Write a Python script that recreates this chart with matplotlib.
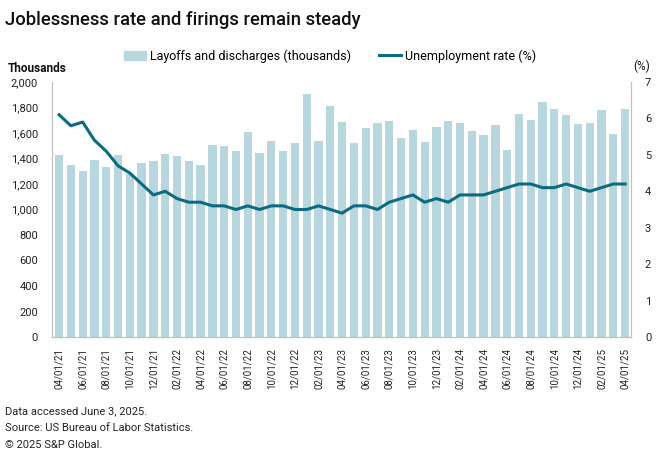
import pandas as pd
import matplotlib.pyplot as plt
import matplotlib.ticker as mticker
from matplotlib.patches import Patch
from matplotlib.lines import Line2D
import numpy as np

plt.rcParams['font.family'] = ['Roboto', 'DejaVu Sans']

# Meses de 04/2021 a 04/2025
months = pd.date_range("2021-04-01", "2025-04-01", freq="MS")
month_labels = [d.strftime("%m/%d/%y") for d in months]

# Demissões e dispensas (milhares)
layoffs = [1430, 1349, 1300, 1391, 1336, 1427, 1280, 1367, 1378, 1433,
           1420, 1383, 1349, 1506, 1495, 1459, 1610, 1443, 1540, 1461,
           1522, 1906, 1540, 1814, 1686, 1519, 1639, 1676, 1692, 1561,
           1621, 1529, 1647, 1694, 1681, 1616, 1587, 1665, 1467, 1749,
           1699, 1846, 1788, 1741, 1671, 1678, 1780, 1592, 1786]

# Taxa de desemprego (%)
unemployment = [6.1, 5.8, 5.9, 5.4, 5.1, 4.7, 4.5, 4.2, 3.9, 4.0,
                3.8, 3.7, 3.7, 3.6, 3.6, 3.5, 3.6, 3.5, 3.6, 3.6,
                3.5, 3.5, 3.6, 3.5, 3.4, 3.6, 3.6, 3.5, 3.7, 3.8,
                3.9, 3.7, 3.8, 3.7, 3.9, 3.9, 3.9, 4.0, 4.1, 4.2,
                4.2, 4.1, 4.1, 4.2, 4.1, 4.0, 4.1, 4.2, 4.2]

bar_color = "#b8d6de"
line_color = "#0b6b80"
axis_color = "#bfbfbf"
text_color = "#222222"

fig = plt.figure(figsize=(6.6, 4.66), dpi=100)
ax = fig.add_axes([52/660, 1-337/466, 579/660, 255/466])
ax2 = ax.twinx()

x = np.arange(len(months))
ax.bar(x, layoffs, width=0.7, color=bar_color, zorder=1)
ax2.plot(x, unemployment, color=line_color, lw=2.2, zorder=3)

ax.set_xlim(-0.6, len(months) - 0.5)
ax.set_ylim(0, 2000)
ax2.set_ylim(0, 7)
ax.yaxis.set_major_locator(mticker.MultipleLocator(200))
ax.yaxis.set_major_formatter(mticker.FuncFormatter(lambda v, p: f"{int(v):,}"))
ax2.yaxis.set_major_locator(mticker.MultipleLocator(1))

ax.set_xticks(x[::2])
ax.set_xticklabels(month_labels[::2], rotation=90, fontsize=7)

for a in (ax, ax2):
    a.spines["top"].set_visible(False)
    for s in ("left", "right", "bottom"):
        a.spines[s].set_color(axis_color)
    a.tick_params(length=0, labelsize=8, colors=text_color)
ax.tick_params(axis="y", pad=10)
ax2.tick_params(axis="y", pad=10)
ax.tick_params(axis="x", pad=8, labelsize=7)

# Título e textos
fig.text(5/660, 1-20/466, "Joblessness rate and firings remain steady",
         fontsize=13.3, fontweight="medium", va="center", ha="left", color="#111111")
fig.text(8/660, 1-68/466, "Thousands", fontsize=8.5, fontweight="bold",
         va="center", ha="left", color="#111111")
fig.text(650/660, 1-66/466, "(%)", fontsize=8.5, va="center", ha="right", color="#111111")

handles = [Patch(color=bar_color, label="Layoffs and discharges (thousands)"),
           Line2D([0], [0], color=line_color, lw=2.2, label="Unemployment rate (%)")]
fig.legend(handles=handles, loc="center left", bbox_to_anchor=(124/660, 1-56/466), ncol=2,
           frameon=False, fontsize=9, handlelength=1.8, handletextpad=0.3,
           columnspacing=2.2, borderaxespad=0, borderpad=0)

notes = ["Data accessed June 3, 2025.",
         "Source: US Bureau of Labor Statistics.",
         "\u00a9 2025 S&P Global."]
for i, n in enumerate(notes):
    fig.text(5/660, 1-(411 + i*17)/466, n, fontsize=8, va="center", ha="left",
             color=text_color)

plt.savefig("out.png", dpi=100)
